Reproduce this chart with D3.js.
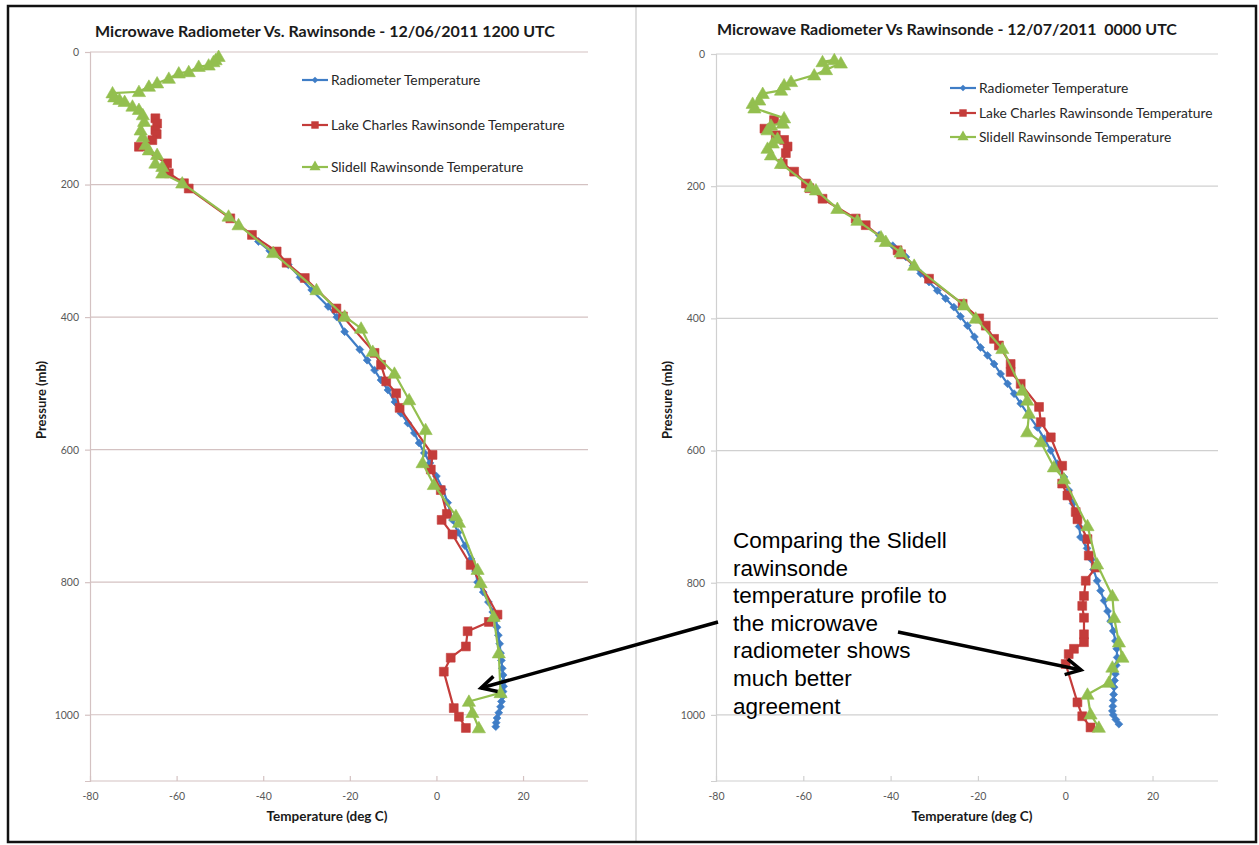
<!DOCTYPE html>
<html><head><meta charset="utf-8">
<script src="https://cdn.jsdelivr.net/npm/d3@7"></script>
<style>body{margin:0;background:#fff}svg{display:block}</style>
</head><body>
<svg id="c" width="1259" height="845"></svg>
<script>
// ---------- DATA ----------
const xTicks = [-80, -60, -40, -20, 0, 20];
const yTicks = [0, 200, 400, 600, 800, 1000];
const seriesNames = ["Radiometer Temperature", "Lake Charles Rawinsonde Temperature", "Slidell Rawinsonde Temperature"];
const leftTitle = "Microwave Radiometer Vs. Rawinsonde - 12/06/2011 1200 UTC";
const rightTitle = "Microwave Radiometer Vs Rawinsonde - 12/07/2011  0000 UTC";
const xAxisTitle = "Temperature (deg C)";
const yAxisTitle = "Pressure (mb)";
const noteLines = ["Comparing the Slidell", "rawinsonde", "temperature profile to", "the microwave", "radiometer shows", "much better", "agreement"];

// [pressure (mb), temperature (deg C)]
const leftRadiometer = [[286,-41.1],[300,-38.5],[321,-34.2],[340,-31.5],[359,-28.8],[384,-25.0],[400,-23.0],[422,-21.2],[449,-17.7],[465,-16.0],[480,-14.3],[495,-12.8],[510,-11.2],[528,-9.6],[545,-8.2],[560,-6.6],[575,-5.1],[590,-4.0],[605,-2.8],[620,-1.5],[640,0.0],[660,1.5],[680,2.6],[706,3.7],[725,5.0],[745,6.6],[765,8.0],[783,9.0],[800,9.5],[815,10.8],[830,12.0],[845,13.0],[857,13.7],[868,14.0],[880,14.3],[893,14.6],[907,14.8],[918,15.0],[930,15.2],[940,15.4],[950,15.5],[957,15.5],[965,15.4],[972,15.3],[980,15.0],[988,14.8],[997,14.4],[1005,14.0],[1012,13.8],[1018,13.7]];
const leftLakeCharles = [[100,-64.9],[108,-64.5],[118,-64.9],[124,-64.6],[133,-65.6],[143,-68.7],[168,-62.2],[183,-61.8],[198,-58.3],[206,-57.2],[251,-47.6],[276,-42.6],[301,-36.9],[318,-34.6],[341,-30.4],[387,-23.1],[399,-21.6],[454,-14.3],[472,-12.8],[497,-11.6],[515,-9.3],[537,-8.5],[608,-0.9],[630,-1.3],[661,1.0],[697,2.4],[706,1.2],[728,3.7],[774,7.9],[849,14.1],[860,12.1],[874,7.2],[897,6.8],[914,3.3],[935,1.7],[990,4.0],[1003,5.2],[1020,6.8]];
const leftSlidell = [[7,-50.3],[12,-51.0],[15,-51.5],[20,-52.6],[22,-54.9],[30,-57.2],[32,-59.5],[40,-61.8],[47,-64.5],[52,-66.4],[60,-68.7],[62,-74.8],[68,-74.4],[72,-73.2],[75,-72.0],[82,-70.2],[87,-68.7],[95,-67.8],[105,-67.5],[118,-68.3],[128,-67.8],[140,-67.2],[148,-66.4],[155,-64.5],[168,-64.9],[173,-63.3],[183,-63.3],[198,-58.7],[248,-48.0],[261,-45.7],[303,-37.7],[359,-27.7],[399,-21.2],[417,-17.4],[452,-14.7],[485,-9.7],[525,-6.3],[570,-2.5],[620,-3.2],[653,-0.6],[700,4.5],[710,5.2],[781,9.5],[801,10.2],[852,13.2],[907,14.4],[967,14.8],[980,7.5],[997,8.3],[1020,9.8]];

const rightRadiometer = [[274,-42.6],[290,-39.5],[307,-36.5],[320,-34.8],[332,-33.1],[345,-31.2],[358,-29.3],[370,-27.4],[383,-25.5],[397,-24.0],[411,-22.4],[428,-20.8],[444,-19.4],[456,-17.8],[469,-16.3],[484,-14.8],[499,-13.2],[514,-11.7],[529,-10.2],[547,-8.3],[565,-6.4],[582,-4.8],[600,-3.3],[620,-1.8],[640,-0.3],[660,0.8],[680,1.8],[700,2.7],[715,3.2],[731,3.5],[748,5.0],[765,6.0],[780,6.5],[797,7.3],[812,8.1],[827,8.9],[843,9.7],[858,10.4],[873,11.0],[888,11.5],[900,11.8],[913,11.9],[925,11.7],[938,11.5],[948,11.3],[958,11.2],[969,11.1],[978,11.0],[987,10.9],[994,10.8],[1000,11.0],[1007,11.6],[1014,12.3]];
const rightLakeCharles = [[100,-66.7],[113,-68.9],[123,-66.3],[130,-64.4],[140,-63.6],[150,-64.0],[166,-64.7],[178,-62.1],[196,-59.4],[203,-58.6],[219,-55.6],[249,-48.0],[259,-45.7],[297,-38.4],[303,-37.6],[340,-31.2],[378,-23.5],[400,-19.7],[411,-18.2],[431,-16.3],[441,-15.2],[469,-12.5],[481,-12.5],[499,-10.2],[534,-6.0],[557,-5.6],[580,-3.3],[623,-0.7],[650,-0.7],[668,0.5],[693,2.4],[704,2.8],[734,5.1],[759,5.4],[777,7.0],[797,4.7],[820,4.3],[835,3.9],[853,4.3],[878,4.3],[890,4.3],[900,2.0],[908,0.8],[923,0.1],[981,2.8],[1002,3.9],[1019,5.8]];
const rightSlidell = [[9,-52.9],[12,-55.6],[14,-51.4],[24,-54.8],[32,-57.5],[42,-62.8],[47,-64.4],[55,-65.1],[60,-69.3],[70,-70.1],[75,-71.6],[82,-71.2],[97,-64.4],[105,-64.7],[108,-67.4],[115,-68.2],[128,-65.9],[135,-67.0],[143,-68.2],[153,-67.4],[166,-65.1],[201,-58.3],[206,-57.1],[234,-52.2],[252,-47.6],[277,-42.2],[284,-41.1],[300,-37.7],[320,-34.6],[380,-23.2],[400,-20.5],[446,-14.4],[509,-9.8],[524,-8.7],[544,-8.3],[572,-8.7],[587,-5.6],[625,-2.6],[643,-0.3],[714,5.1],[772,7.3],[820,10.8],[853,11.2],[890,12.3],[913,13.1],[928,10.8],[951,10.0],[969,5.1],[999,5.8],[1019,7.7]];

// ---------- DRAWING ----------
const svg = d3.select("#c");
const FONT = "Lato, 'Open Sans', sans-serif";
const colors = ["#3f7dc6", "#c43c3a", "#93bf4f"];
const symbols = [d3.symbolDiamond2, d3.symbolSquare2, d3.symbolTriangle2];
const symSizes = [40, 100, 125];
const plainFmt = d => String(d);

svg.append("rect").attr("x",0).attr("y",0).attr("width",1259).attr("height",845).attr("fill","#fff");

function drawChart(cfg) {
  const g = svg.append("g");
  const x = d3.scaleLinear().domain([-80, 35]).range([cfg.x0, cfg.x1]);
  const y = d3.scaleLinear().domain([0, 1100]).range([cfg.y0, cfg.y1]);

  g.selectAll(".grid").data(yTicks).join("line")
    .attr("x1", cfg.x0).attr("x2", cfg.x1)
    .attr("y1", d => y(d)).attr("y2", d => y(d))
    .attr("stroke", cfg.gridColor).attr("stroke-width", 1.2);

  const yAx = g.append("g").attr("transform", `translate(${cfg.x0},0)`)
    .call(d3.axisLeft(y).tickValues(yTicks).tickSize(5).tickPadding(6).tickFormat(plainFmt));
  const xAx = g.append("g").attr("transform", `translate(0,${cfg.y1})`)
    .call(d3.axisBottom(x).tickValues(xTicks).tickSizeInner(-5).tickSizeOuter(0).tickPadding(12).tickFormat(plainFmt));
  [yAx, xAx].forEach(a => {
    a.select(".domain").attr("stroke", cfg.gridColor).attr("stroke-width", 1.2);
    a.selectAll(".tick line").attr("stroke", cfg.gridColor).attr("stroke-width", 1.2);
    a.selectAll("text").attr("fill", "#595959").attr("font-family", FONT).attr("font-size", 10.5);
  });
  xAx.select(".domain").attr("d", `M${cfg.x0},0H${cfg.x1}`);

  const line = d3.line().x(d => x(d[1])).y(d => y(d[0]));
  cfg.series.forEach((s, i) => {
    g.append("path").datum(s).attr("d", line).attr("fill", "none")
      .attr("stroke", colors[i]).attr("stroke-width", 2.2).attr("stroke-linejoin", "round");
    g.selectAll(".m" + i).data(s).join("path")
      .attr("transform", d => `translate(${x(d[1])},${y(d[0]) + (i === 2 ? 1 : 0)})`)
      .attr("d", d3.symbol().type(symbols[i]).size(symSizes[i]))
      .attr("fill", colors[i]).attr("stroke", colors[i]).attr("stroke-width", 0.6);
  });

  g.append("text").attr("x", cfg.titleX).attr("y", cfg.titleY).attr("text-anchor", "middle")
    .style("white-space", "pre")
    .attr("font-family", FONT).attr("font-weight", "bold").attr("font-size", 16).attr("fill", "#1a1a1a")
    .text(cfg.title);
  g.append("text").attr("x", cfg.xLabelX).attr("y", cfg.xLabelY).attr("text-anchor", "middle")
    .attr("font-family", FONT).attr("font-weight", "bold").attr("font-size", 13.5).attr("fill", "#1a1a1a")
    .text(xAxisTitle);
  g.append("text").attr("transform", `translate(${cfg.yLabelX},${cfg.yLabelY}) rotate(-90)`)
    .attr("text-anchor", "middle").attr("font-family", FONT).attr("font-weight", "bold").attr("font-size", 13)
    .attr("fill", "#1a1a1a").text(yAxisTitle);

  seriesNames.forEach((name, i) => {
    const ly = cfg.legendY[i];
    g.append("line").attr("x1", cfg.legendX).attr("x2", cfg.legendX + 26).attr("y1", ly).attr("y2", ly)
      .attr("stroke", colors[i]).attr("stroke-width", 2.2);
    g.append("path").attr("transform", `translate(${cfg.legendX + 13},${ly})`)
      .attr("d", d3.symbol().type(symbols[i]).size(symSizes[i] * 0.7)).attr("fill", colors[i]);
    g.append("text").attr("x", cfg.legendX + 29).attr("y", ly + 5)
      .attr("font-family", FONT).attr("font-size", 13.8).attr("fill", "#262626").text(name);
  });
}

drawChart({
  x0: 90, x1: 588, y0: 52, y1: 781, gridColor: "#d4c2c2",
  title: leftTitle, titleX: 325, titleY: 37,
  xLabelX: 327, xLabelY: 821, yLabelX: 46, yLabelY: 400,
  legendX: 302, legendY: [80, 125, 167],
  series: [leftRadiometer, leftLakeCharles, leftSlidell]
});
drawChart({
  x0: 716, x1: 1218, y0: 54, y1: 781, gridColor: "#d0d0d0",
  title: rightTitle, titleX: 947, titleY: 35,
  xLabelX: 972, xLabelY: 821, yLabelX: 672, yLabelY: 400,
  legendX: 950, legendY: [88, 113, 137],
  series: [rightRadiometer, rightLakeCharles, rightSlidell]
});

svg.append("line").attr("x1", 636).attr("x2", 636).attr("y1", 7).attr("y2", 843).attr("stroke", "#c8c8c8").attr("stroke-width", 1.2);
svg.append("rect").attr("x", 8).attr("y", 6).attr("width", 1248).attr("height", 836)
  .attr("fill", "none").attr("stroke", "#111").attr("stroke-width", 2.5);

const note = svg.append("text").attr("font-family", "'Liberation Sans', Arial, sans-serif").attr("font-size", 22.5).attr("fill", "#000");
noteLines.forEach((t, i) => note.append("tspan").attr("x", 733).attr("y", 548 + i * 27.6).text(t));

function arrow(x1, y1, x2, y2) {
  const a = Math.atan2(y2 - y1, x2 - x1), L = 17, h = Math.PI / 6.5;
  svg.append("line").attr("x1", x1).attr("y1", y1).attr("x2", x2).attr("y2", y2)
    .attr("stroke", "#000").attr("stroke-width", 3.5);
  svg.append("path").attr("d",
    `M${x2 - L * Math.cos(a - h)},${y2 - L * Math.sin(a - h)}L${x2},${y2}L${x2 - L * Math.cos(a + h)},${y2 - L * Math.sin(a + h)}`)
    .attr("fill", "none").attr("stroke", "#000").attr("stroke-width", 3.5).attr("stroke-linejoin", "miter");
}
arrow(718, 622, 481, 688);
arrow(898, 632, 1081, 670);
</script>
</body></html>
